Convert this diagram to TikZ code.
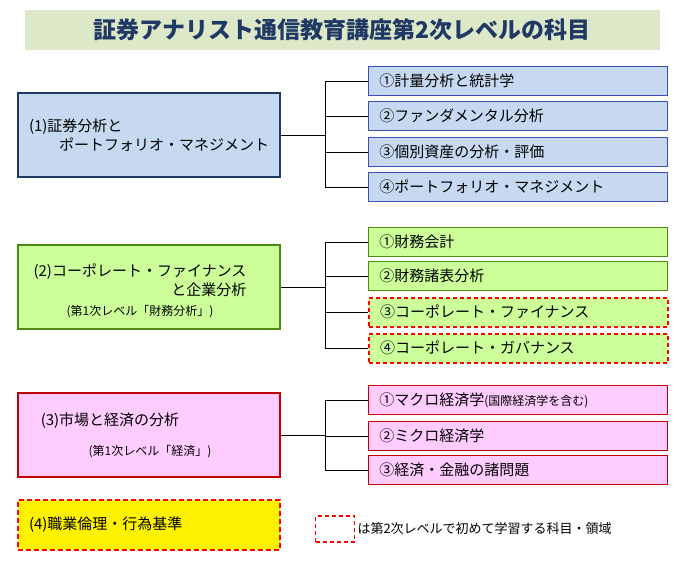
\documentclass[tikz,border=0pt]{standalone}
\usepackage{fontspec}
\setmainfont{Noto Sans CJK JP}
\definecolor{navy}{HTML}{1F3864}
\definecolor{titlebg}{HTML}{DDE8C8}
\definecolor{bluefill}{HTML}{C6D9F1}
\definecolor{blueline}{HTML}{3A4FB0}
\definecolor{greenfill}{HTML}{CCFF99}
\definecolor{greenline}{HTML}{4F8A10}
\definecolor{pinkfill}{HTML}{FFCCFF}
\definecolor{pinkline}{HTML}{C00000}
\definecolor{dashred}{HTML}{FF0000}
\tikzset{
  main/.style={draw, line width=1.6pt, minimum width=262pt, minimum height=84pt, align=left, font=\fontsize{15}{19}\selectfont},
  sub/.style={draw, line width=0.8pt, minimum width=299pt, minimum height=29pt, anchor=west, text width=285pt, align=left, font=\fontsize{15}{17}\selectfont},
  newsub/.style={sub, draw=dashred, line width=2pt, dash pattern=on 4pt off 3pt},
  link/.style={line width=0.8pt, black}
}
\begin{document}
\begin{tikzpicture}[x=1pt,y=-1pt]
\useasboundingbox (0,0) rectangle (684,562);
\fill[white] (0,0) rectangle (684,562);

% title
\node[fill=titlebg, minimum width=635pt, minimum height=40pt, text=navy,
  font=\bfseries\fontsize{23}{26}\selectfont] (title) at (342,30) {証券アナリスト通信教育講座第2次レベルの科目};

% (1)
\node[main, fill=bluefill, draw=navy] (m1) at (149,135)
  {(1)証券分析と\\\hspace{2em}ポートフォリオ・マネジメント};
\foreach \y/\t [count=\i] in {81/①計量分析と統計学, 116/②ファンダメンタル分析,
    152/③個別資産の分析・評価, 187/④ポートフォリオ・マネジメント}
  \node[sub, fill=bluefill, draw=blueline] (a\i) at (368,\y) {\hspace{4pt}\t};
\coordinate (j1) at (325,135);
\draw[link] (m1.east) -- (j1);
\draw[link] (325,81) -- (325,187);
\foreach \i in {1,...,4} \draw[link] (a\i.west) -- (a\i.west -| j1);

% (2)
\node[main, fill=greenfill, draw=greenline] (m2) at (149,287) {};
\node[font=\fontsize{15}{19}\selectfont, align=right] (m2a) at (140,280)
  {(2)コーポレート・ファイナンス\\と企業分析};
\node[font=\fontsize{12}{14}\selectfont] (m2b) at (140,312) {(第1次レベル「財務分析」)};
\node[sub, fill=greenfill, draw=greenline] (b1) at (368,242) {\hspace{4pt}①財務会計};
\node[sub, fill=greenfill, draw=greenline] (b2) at (368,276) {\hspace{4pt}②財務諸表分析};
\node[newsub, fill=greenfill] (b3) at (368,312) {\hspace{4pt}③コーポレート・ファイナンス};
\node[newsub, fill=greenfill] (b4) at (368,348) {\hspace{4pt}④コーポレート・ガバナンス};
\coordinate (j2) at (325,287);
\draw[link] (m2.east) -- (j2);
\draw[link] (325,242) -- (325,348);
\foreach \i in {1,...,4} \draw[link] (b\i.west) -- (b\i.west -| j2);

% (3)
\node[main, fill=pinkfill, draw=pinkline] (m3) at (149,435) {};
\node[font=\fontsize{15}{19}\selectfont] (m3a) at (110,421) {(3)市場と経済の分析};
\node[font=\fontsize{12}{14}\selectfont] (m3b) at (150,452) {(第1次レベル「経済」)};
\node[sub, fill=pinkfill, draw=pinkline] (c1) at (368,400)
  {\hspace{4pt}①マクロ経済学{\fontsize{12}{14}\selectfont(国際経済学を含む)}};
\node[sub, fill=pinkfill, draw=pinkline] (c2) at (368,436) {\hspace{4pt}②ミクロ経済学};
\node[sub, fill=pinkfill, draw=pinkline] (c3) at (368,470) {\hspace{4pt}③経済・金融の諸問題};
\coordinate (j3) at (325,435);
\draw[link] (m3.east) -- (j3);
\draw[link] (325,400) -- (325,470);
\foreach \i in {1,...,3} \draw[link] (c\i.west) -- (c\i.west -| j3);

% (4)
\node[main, minimum height=50pt, fill=yellow, draw=dashred, line width=2pt, dash pattern=on 5pt off 3pt,
  text width=240pt] (m4) at (149,525) {(4)職業倫理・行為基準};

% legend
\node[draw=dashred, line width=1.6pt, dash pattern=on 4pt off 3pt, minimum width=39pt,
  minimum height=26pt] (key) at (335,529) {};
\node[anchor=west, font=\fontsize{13}{15}\selectfont, inner sep=2pt] (keytext) at (key.east)
  {は第2次レベルで初めて学習する科目・領域};
\end{tikzpicture}
\end{document}
